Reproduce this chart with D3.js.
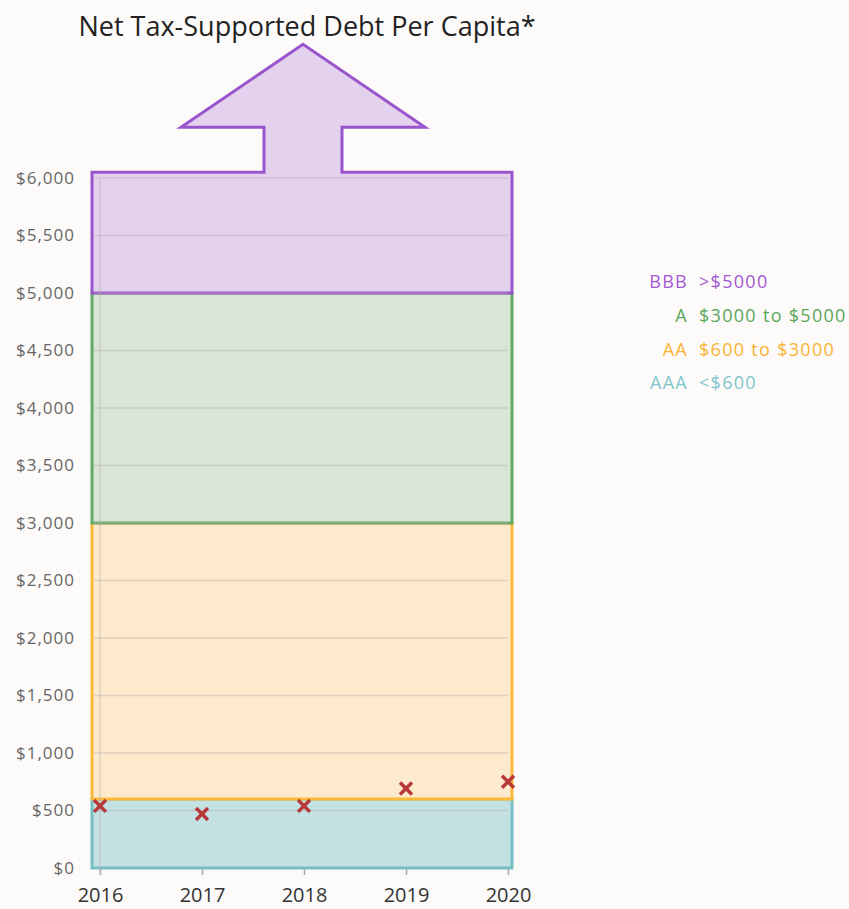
<!DOCTYPE html>
<html lang="en">
<head>
	<meta charset="UTF-8">
	<title>Net Tax-Supported Debt Per Capita</title>
	<script src="https://cdn.jsdelivr.net/npm/d3@7"></script>
	<style type="text/css">
		body { margin: 0; background: #fdfbfa; }
		text { font-family: "Open Sans", sans-serif; }
		.grid line { stroke: #b8b0b0; stroke-opacity: 0.45; stroke-width: 1.5; }
		.ylab { fill: #666; font-size: 17px; letter-spacing: 1px; }
		.xlab { fill: #333; font-size: 20px; }
		.leg { font-size: 18px; letter-spacing: 1.3px; }
	</style>
</head>
<body>

<script type="text/javascript">

	var years = [2016, 2017, 2018, 2019, 2020];
	var debt = [540, 470, 540, 692, 750];
	var yTicks = [0, 500, 1000, 1500, 2000, 2500, 3000, 3500, 4000, 4500, 5000, 5500, 6000];

	var bandRatings = ['AAA', 'AA', 'A', 'BBB'];
	var bandLow = [0, 600, 3000, 5000];
	var bandHigh = [600, 3000, 5000, 6050];
	var bandText = ['<$600', '$600 to $3000', '$3000 to $5000', '>$5000'];
	var bandFill = ['#c3e0e3', '#fde9cb', '#d9e5d5', '#e3d1ee'];
	var bandStroke = ['#76bfc4', '#fbb93a', '#66a866', '#9b55cc'];
	var bandTextColor = ['#7ec6cb', '#f9b233', '#5aa65a', '#a259d2'];

	window.onload = function () {

		var width = 849, height = 909;
		var margin = {top: 178, left: 100, bottom: 41, right: 341};

		var svg = d3.select('body').append('svg')
			.attr('width', width)
			.attr('height', height);

		var x = d3.scaleLinear()
			.domain([2016, 2020])
			.range([margin.left, width - margin.right]);

		var y = d3.scaleLinear()
			.domain([0, 6000])
			.range([height - margin.bottom, margin.top]);

		var left = x(2016) - 8, right = x(2020) + 4;

		// title
		svg.append('text')
			.attr('x', 307)
			.attr('y', 36)
			.attr('text-anchor', 'middle')
			.style('font-size', '27px')
			.style('fill', '#222')
			.text('Net Tax-Supported Debt Per Capita*');

		// bands (lower three)
		for (var i = 0; i < 3; i++) {
			svg.append('rect')
				.attr('x', left)
				.attr('y', y(bandHigh[i]))
				.attr('width', right - left)
				.attr('height', y(bandLow[i]) - y(bandHigh[i]))
				.style('fill', bandFill[i])
				.style('stroke', bandStroke[i])
				.style('stroke-width', 3);
		}

		// BBB band with the arrow on top
		var top = y(bandHigh[3]), bot = y(bandLow[3]), cx = x(2018) - 1;
		var pts = [
			[left, bot], [left, top], [cx - 39, top], [cx - 39, top - 45], [cx - 122, top - 45],
			[cx, top - 128], [cx + 122, top - 45], [cx + 39, top - 45], [cx + 39, top],
			[right, top], [right, bot]
		];
		svg.append('path')
			.attr('d', d3.line()(pts) + 'Z')
			.style('fill', bandFill[3])
			.style('stroke', bandStroke[3])
			.style('stroke-width', 3);

		// gridlines
		svg.append('g').attr('class', 'grid')
			.selectAll('line')
			.data(yTicks.slice(1))
			.enter().append('line')
			.attr('x1', left + 2)
			.attr('x2', x(2020))
			.attr('y1', function (d) { return y(d); })
			.attr('y2', function (d) { return y(d); });

		svg.append('g').attr('class', 'grid')
			.append('line')
			.attr('x1', x(2016)).attr('x2', x(2016))
			.attr('y1', y(6000)).attr('y2', y(0) + 7);

		// x ticks
		svg.append('g')
			.attr('transform', 'translate(0,' + (y(0) + 1) + ')')
			.call(d3.axisBottom(x).tickValues(years).tickFormat(d3.format('d')).tickSize(6).tickPadding(13))
			.call(function (g) {
				g.select('.domain').remove();
				g.selectAll('.tick line').style('stroke', '#aaa').style('stroke-width', 1.5);
				g.selectAll('.tick text').attr('class', 'xlab').attr('font-family', null).attr('font-size', null);
			});

		// y labels
		svg.append('g')
			.attr('transform', 'translate(' + 75 + ',0)')
			.call(d3.axisLeft(y).tickValues(yTicks).tickSize(0).tickPadding(0)
				.tickFormat(function (d) { return '$' + d3.format(',')(d); }))
			.call(function (g) {
				g.select('.domain').remove();
				g.selectAll('.tick text').attr('class', 'ylab').attr('font-family', null).attr('font-size', null);
			});

		// data marks
		var xs = d3.symbol().type(d3.symbolX).size(95);
		svg.selectAll('.pt')
			.data(years)
			.enter().append('path')
			.attr('class', 'pt')
			.attr('d', xs)
			.attr('transform', function (d, i) { return 'translate(' + x(d) + ',' + y(debt[i]) + ')'; })
			.style('fill', 'none')
			.style('stroke', '#b8383a')
			.style('stroke-width', 3.5);

		// legend
		var leg = svg.append('g');
		var order = [3, 2, 1, 0];
		order.forEach(function (k, j) {
			var ly = 282 + j * 33.7;
			leg.append('text')
				.attr('class', 'leg')
				.attr('x', 688).attr('y', ly).attr('dy', '0.35em')
				.attr('text-anchor', 'end')
				.style('fill', bandTextColor[k])
				.text(bandRatings[k]);
			leg.append('text')
				.attr('class', 'leg')
				.attr('x', 699).attr('y', ly).attr('dy', '0.35em')
				.style('fill', bandTextColor[k])
				.text(bandText[k]);
		});
	};

</script>

</body>
</html>
